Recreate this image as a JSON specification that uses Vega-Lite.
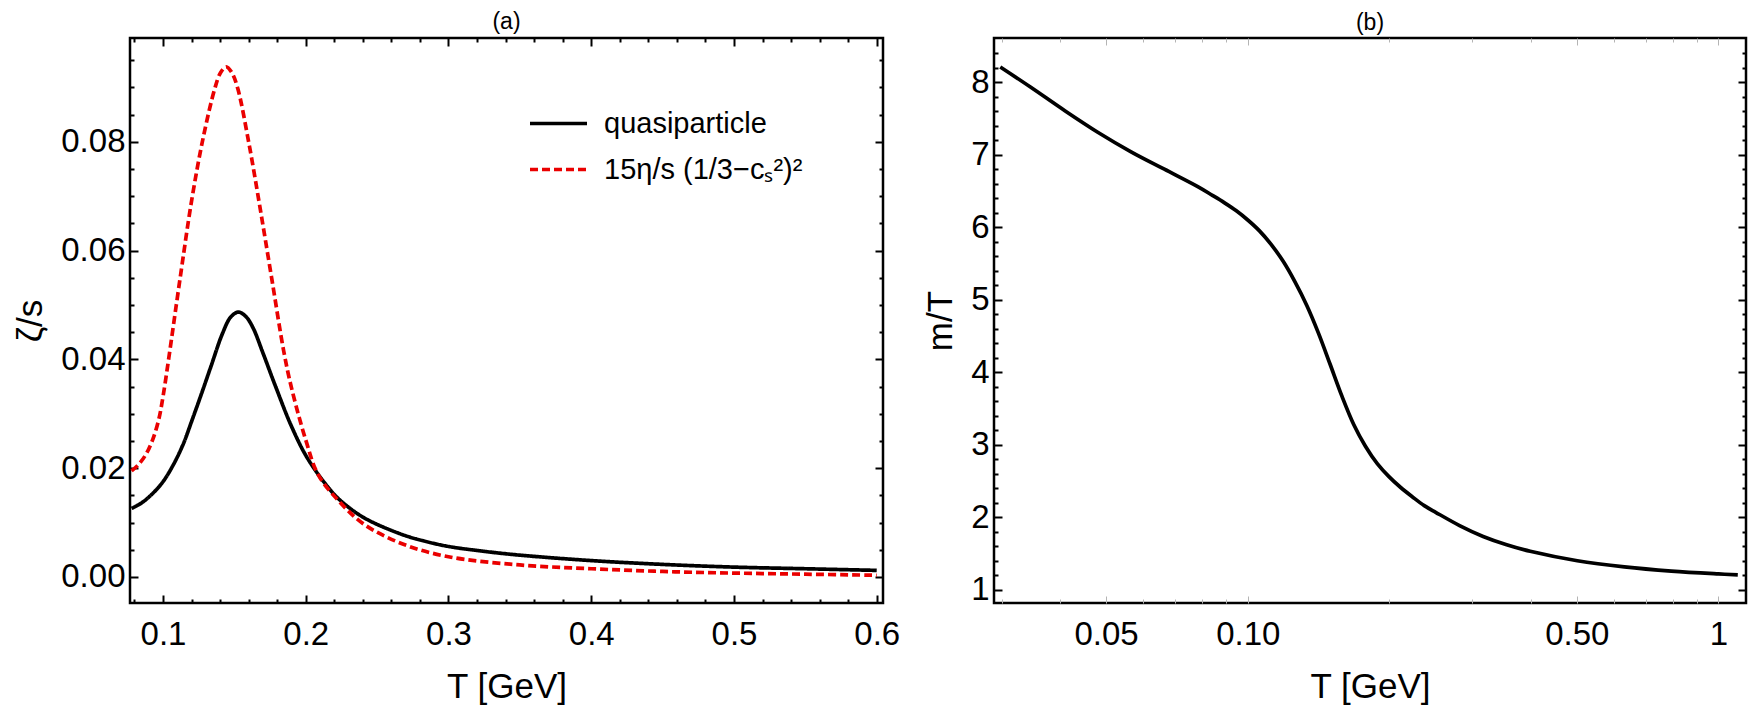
{
  "$schema": "https://vega.github.io/schema/vega-lite/v6.json",
  "background": "white",
  "autosize": {"type": "pad"},
  "padding": {"left": 12, "top": 9, "right": 0, "bottom": 0},
  "config": {
    "view": {"stroke": "black", "strokeWidth": 2.5},
    "font": "Liberation Sans",
    "axis": {
      "labelFont": "Liberation Sans",
      "titleFont": "Liberation Sans",
      "labelColor": "black",
      "titleColor": "black",
      "titleFontWeight": "normal",
      "grid": false,
      "domain": false,
      "tickColor": "black",
      "tickWidth": 2,
      "labelFlush": false,
      "labelOverlap": false
    }
  },
  "datasets": {
    "zeta": [
      {"T": 0.078, "v": 0.0126, "curve": "quasiparticle"},
      {"T": 0.085, "v": 0.0136, "curve": "quasiparticle"},
      {"T": 0.093, "v": 0.0154, "curve": "quasiparticle"},
      {"T": 0.1, "v": 0.0175, "curve": "quasiparticle"},
      {"T": 0.107, "v": 0.0205, "curve": "quasiparticle"},
      {"T": 0.114, "v": 0.0243, "curve": "quasiparticle"},
      {"T": 0.1202, "v": 0.0287, "curve": "quasiparticle"},
      {"T": 0.127, "v": 0.0337, "curve": "quasiparticle"},
      {"T": 0.1336, "v": 0.0387, "curve": "quasiparticle"},
      {"T": 0.1416, "v": 0.0447, "curve": "quasiparticle"},
      {"T": 0.1475, "v": 0.0478, "curve": "quasiparticle"},
      {"T": 0.1529, "v": 0.0487, "curve": "quasiparticle"},
      {"T": 0.158, "v": 0.0479, "curve": "quasiparticle"},
      {"T": 0.1631, "v": 0.0458, "curve": "quasiparticle"},
      {"T": 0.17, "v": 0.0412, "curve": "quasiparticle"},
      {"T": 0.1792, "v": 0.0348, "curve": "quasiparticle"},
      {"T": 0.19, "v": 0.0277, "curve": "quasiparticle"},
      {"T": 0.2006, "v": 0.0221, "curve": "quasiparticle"},
      {"T": 0.2141, "v": 0.017, "curve": "quasiparticle"},
      {"T": 0.2237, "v": 0.0142, "curve": "quasiparticle"},
      {"T": 0.2407, "v": 0.0109, "curve": "quasiparticle"},
      {"T": 0.2675, "v": 0.0078, "curve": "quasiparticle"},
      {"T": 0.283, "v": 0.0066, "curve": "quasiparticle"},
      {"T": 0.3, "v": 0.0056, "curve": "quasiparticle"},
      {"T": 0.325, "v": 0.0047, "curve": "quasiparticle"},
      {"T": 0.35, "v": 0.004, "curve": "quasiparticle"},
      {"T": 0.4, "v": 0.003, "curve": "quasiparticle"},
      {"T": 0.45, "v": 0.0023, "curve": "quasiparticle"},
      {"T": 0.5, "v": 0.0018, "curve": "quasiparticle"},
      {"T": 0.55, "v": 0.0015, "curve": "quasiparticle"},
      {"T": 0.6, "v": 0.0012, "curve": "quasiparticle"},
      {"T": 0.078, "v": 0.0195, "curve": "15η/s (1/3−cₛ²)²"},
      {"T": 0.083, "v": 0.0207, "curve": "15η/s (1/3−cₛ²)²"},
      {"T": 0.088, "v": 0.0225, "curve": "15η/s (1/3−cₛ²)²"},
      {"T": 0.093, "v": 0.0254, "curve": "15η/s (1/3−cₛ²)²"},
      {"T": 0.097, "v": 0.0289, "curve": "15η/s (1/3−cₛ²)²"},
      {"T": 0.1, "v": 0.0331, "curve": "15η/s (1/3−cₛ²)²"},
      {"T": 0.1041, "v": 0.0403, "curve": "15η/s (1/3−cₛ²)²"},
      {"T": 0.1121, "v": 0.0551, "curve": "15η/s (1/3−cₛ²)²"},
      {"T": 0.1202, "v": 0.0694, "curve": "15η/s (1/3−cₛ²)²"},
      {"T": 0.1282, "v": 0.0808, "curve": "15η/s (1/3−cₛ²)²"},
      {"T": 0.1363, "v": 0.0898, "curve": "15η/s (1/3−cₛ²)²"},
      {"T": 0.1403, "v": 0.0927, "curve": "15η/s (1/3−cₛ²)²"},
      {"T": 0.1443, "v": 0.0938, "curve": "15η/s (1/3−cₛ²)²"},
      {"T": 0.1483, "v": 0.0927, "curve": "15η/s (1/3−cₛ²)²"},
      {"T": 0.1524, "v": 0.0898, "curve": "15η/s (1/3−cₛ²)²"},
      {"T": 0.1605, "v": 0.0793, "curve": "15η/s (1/3−cₛ²)²"},
      {"T": 0.1685, "v": 0.0671, "curve": "15η/s (1/3−cₛ²)²"},
      {"T": 0.1766, "v": 0.0542, "curve": "15η/s (1/3−cₛ²)²"},
      {"T": 0.1846, "v": 0.0415, "curve": "15η/s (1/3−cₛ²)²"},
      {"T": 0.19, "v": 0.0348, "curve": "15η/s (1/3−cₛ²)²"},
      {"T": 0.2, "v": 0.0252, "curve": "15η/s (1/3−cₛ²)²"},
      {"T": 0.2087, "v": 0.0188, "curve": "15η/s (1/3−cₛ²)²"},
      {"T": 0.2237, "v": 0.0138, "curve": "15η/s (1/3−cₛ²)²"},
      {"T": 0.2407, "v": 0.0097, "curve": "15η/s (1/3−cₛ²)²"},
      {"T": 0.2675, "v": 0.0061, "curve": "15η/s (1/3−cₛ²)²"},
      {"T": 0.3, "v": 0.0037, "curve": "15η/s (1/3−cₛ²)²"},
      {"T": 0.35, "v": 0.0022, "curve": "15η/s (1/3−cₛ²)²"},
      {"T": 0.4, "v": 0.0015, "curve": "15η/s (1/3−cₛ²)²"},
      {"T": 0.45, "v": 0.001, "curve": "15η/s (1/3−cₛ²)²"},
      {"T": 0.5, "v": 0.0007, "curve": "15η/s (1/3−cₛ²)²"},
      {"T": 0.55, "v": 0.0005, "curve": "15η/s (1/3−cₛ²)²"},
      {"T": 0.6, "v": 0.0003, "curve": "15η/s (1/3−cₛ²)²"}
    ],
    "mass": [
      {"T": 0.0298, "mT": 8.21},
      {"T": 0.0346, "mT": 7.93},
      {"T": 0.0408, "mT": 7.61},
      {"T": 0.048, "mT": 7.31},
      {"T": 0.0565, "mT": 7.04},
      {"T": 0.0665, "mT": 6.8},
      {"T": 0.0783, "mT": 6.56},
      {"T": 0.0841, "mT": 6.44},
      {"T": 0.0891, "mT": 6.34},
      {"T": 0.0944, "mT": 6.23},
      {"T": 0.1, "mT": 6.1},
      {"T": 0.1059, "mT": 5.95},
      {"T": 0.1122, "mT": 5.76},
      {"T": 0.1189, "mT": 5.53},
      {"T": 0.1259, "mT": 5.25},
      {"T": 0.1334, "mT": 4.925},
      {"T": 0.1413, "mT": 4.54},
      {"T": 0.1496, "mT": 4.11},
      {"T": 0.1585, "mT": 3.67},
      {"T": 0.1679, "mT": 3.28},
      {"T": 0.1778, "mT": 2.98},
      {"T": 0.1884, "mT": 2.74},
      {"T": 0.1995, "mT": 2.56},
      {"T": 0.2113, "mT": 2.41},
      {"T": 0.2239, "mT": 2.28},
      {"T": 0.2371, "mT": 2.16},
      {"T": 0.2512, "mT": 2.065},
      {"T": 0.2818, "mT": 1.885},
      {"T": 0.3162, "mT": 1.735},
      {"T": 0.3548, "mT": 1.62},
      {"T": 0.3981, "mT": 1.53},
      {"T": 0.5012, "mT": 1.4},
      {"T": 0.631, "mT": 1.315},
      {"T": 0.7943, "mT": 1.257},
      {"T": 1.0, "mT": 1.218},
      {"T": 1.099, "mT": 1.205}
    ]
  },
  "hconcat": [
    {
      "title": {"text": "(a)", "fontSize": 23, "font": "Liberation Sans", "fontWeight": "normal", "color": "black", "offset": 3},
      "width": 753,
      "height": 565,
      "data": {"name": "zeta"},
      "resolve": {"axis": {"x": "independent", "y": "independent"}},
      "layer": [
        {
          "mark": {"type": "line", "strokeWidth": 3.7, "interpolate": "catmull-rom"},
          "encoding": {
            "x": {"field": "T", "type": "quantitative", "scale": {"domain": [0.0769, 0.6044], "nice": false, "zero": false},
              "axis": {"orient": "bottom", "title": "T [GeV]", "values": [0.1, 0.2, 0.3, 0.4, 0.5, 0.6], "format": ".1f", "ticks": false, "labelPadding": 15, "labelFontSize": 33, "titleFontSize": 35, "titlePadding": 18}},
            "y": {"field": "v", "type": "quantitative", "scale": {"domain": [-0.0048, 0.0991], "nice": false, "zero": false},
              "axis": {"orient": "left", "title": "ζ/s", "values": [0, 0.02, 0.04, 0.06, 0.08], "format": ".2f", "ticks": false, "labelPadding": 5, "labelFontSize": 33, "titleFontSize": 35, "titlePadding": 12}},
            "color": {"field": "curve", "type": "nominal",
              "scale": {"domain": ["quasiparticle", "15η/s (1/3−cₛ²)²"], "range": ["black", "#ea0000"]},
              "legend": {"title": null, "orient": "none", "legendX": 398, "legendY": 55, "symbolType": "stroke", "symbolSize": 3249, "symbolStrokeWidth": 3.7, "labelFontSize": 29, "labelFont": "Liberation Sans", "labelColor": "black", "labelOffset": 15, "rowPadding": 0, "labelLimit": 400, "padding": 0}},
            "strokeDash": {"field": "curve", "type": "nominal",
              "scale": {"domain": ["quasiparticle", "15η/s (1/3−cₛ²)²"], "range": [[1, 0], [8, 4]]},
              "legend": {"title": null, "orient": "none", "legendX": 398, "legendY": 55, "symbolType": "stroke", "symbolSize": 3249, "symbolStrokeWidth": 3.7, "labelFontSize": 29, "labelFont": "Liberation Sans", "labelColor": "black", "labelOffset": 15, "rowPadding": 0, "labelLimit": 400, "padding": 0}}
          }
        },
        {
          "mark": {"type": "line", "strokeOpacity": 0},
          "encoding": {
            "x": {"field": "T", "type": "quantitative", "scale": {"domain": [0.0769, 0.6044], "nice": false, "zero": false},
              "axis": {"orient": "bottom", "title": null, "labels": false, "values": [0.1, 0.2, 0.3, 0.4, 0.5, 0.6], "tickSize": -8}},
            "y": {"field": "v", "type": "quantitative", "scale": {"domain": [-0.0048, 0.0991], "nice": false, "zero": false},
              "axis": {"orient": "left", "title": null, "labels": false, "values": [0, 0.02, 0.04, 0.06, 0.08], "tickSize": -8}}
          }
        },
        {
          "mark": {"type": "line", "strokeOpacity": 0},
          "encoding": {
            "x": {"field": "T", "type": "quantitative", "scale": {"domain": [0.0769, 0.6044], "nice": false, "zero": false},
              "axis": {"orient": "bottom", "title": null, "labels": false, "values": [0.08, 0.12, 0.14, 0.16, 0.18, 0.22, 0.24, 0.26, 0.28, 0.32, 0.34, 0.36, 0.38, 0.42, 0.44, 0.46, 0.48, 0.52, 0.54, 0.56, 0.58], "tickSize": -4}},
            "y": {"field": "v", "type": "quantitative", "scale": {"domain": [-0.0048, 0.0991], "nice": false, "zero": false},
              "axis": {"orient": "left", "title": null, "labels": false, "values": [0.005, 0.01, 0.015, 0.025, 0.03, 0.035, 0.045, 0.05, 0.055, 0.065, 0.07, 0.075, 0.085, 0.09, 0.095], "tickSize": -4}}
          }
        },
        {
          "mark": {"type": "line", "strokeOpacity": 0},
          "encoding": {
            "x": {"field": "T", "type": "quantitative", "scale": {"domain": [0.0769, 0.6044], "nice": false, "zero": false},
              "axis": {"orient": "top", "title": null, "labels": false, "values": [0.1, 0.2, 0.3, 0.4, 0.5, 0.6], "tickSize": -8}},
            "y": {"field": "v", "type": "quantitative", "scale": {"domain": [-0.0048, 0.0991], "nice": false, "zero": false},
              "axis": {"orient": "right", "title": null, "labels": false, "values": [0, 0.02, 0.04, 0.06, 0.08], "tickSize": -8}}
          }
        },
        {
          "mark": {"type": "line", "strokeOpacity": 0},
          "encoding": {
            "x": {"field": "T", "type": "quantitative", "scale": {"domain": [0.0769, 0.6044], "nice": false, "zero": false},
              "axis": {"orient": "top", "title": null, "labels": false, "values": [0.08, 0.12, 0.14, 0.16, 0.18, 0.22, 0.24, 0.26, 0.28, 0.32, 0.34, 0.36, 0.38, 0.42, 0.44, 0.46, 0.48, 0.52, 0.54, 0.56, 0.58], "tickSize": -4}},
            "y": {"field": "v", "type": "quantitative", "scale": {"domain": [-0.0048, 0.0991], "nice": false, "zero": false},
              "axis": {"orient": "right", "title": null, "labels": false, "values": [0.005, 0.01, 0.015, 0.025, 0.03, 0.035, 0.045, 0.05, 0.055, 0.065, 0.07, 0.075, 0.085, 0.09, 0.095], "tickSize": -4}}
          }
        }
      ]
    },
    {
      "title": {"text": "(b)", "fontSize": 23, "font": "Liberation Sans", "fontWeight": "normal", "color": "black", "offset": 3},
      "width": 752,
      "height": 565,
      "data": {"name": "mass"},
      "resolve": {"axis": {"x": "independent", "y": "independent"}},
      "layer": [
        {
          "mark": {"type": "line", "strokeWidth": 3.7, "color": "black", "interpolate": "catmull-rom"},
          "encoding": {
            "x": {"field": "T", "type": "quantitative", "scale": {"type": "log", "domain": [0.0289, 1.144], "nice": false},
              "axis": {"orient": "bottom", "title": "T [GeV]", "values": [0.05, 0.1, 0.5, 1], "labelExpr": "datum.value >= 1 ? '1' : format(datum.value, '.2f')", "ticks": false, "labelPadding": 15, "labelFontSize": 33, "titleFontSize": 35, "titlePadding": 18}},
            "y": {"field": "mT", "type": "quantitative", "scale": {"domain": [0.817, 8.61], "nice": false, "zero": false},
              "axis": {"orient": "left", "title": "m/T", "values": [1, 2, 3, 4, 5, 6, 7, 8], "format": "d", "ticks": false, "labelPadding": 5, "labelFontSize": 33, "titleFontSize": 35, "titlePadding": 12}}
          }
        },
        {
          "mark": {"type": "line", "strokeOpacity": 0},
          "encoding": {
            "x": {"field": "T", "type": "quantitative", "scale": {"type": "log", "domain": [0.0289, 1.144], "nice": false},
              "axis": {"orient": "bottom", "title": null, "labels": false, "values": [0.05, 0.1, 0.5, 1], "tickSize": -7, "tickColor": "#b4b4b4", "tickWidth": 1}},
            "y": {"field": "mT", "type": "quantitative", "scale": {"domain": [0.817, 8.61], "nice": false, "zero": false},
              "axis": {"orient": "left", "title": null, "labels": false, "values": [1, 2, 3, 4, 5, 6, 7, 8], "tickSize": -8}}
          }
        },
        {
          "mark": {"type": "line", "strokeOpacity": 0},
          "encoding": {
            "x": {"field": "T", "type": "quantitative", "scale": {"type": "log", "domain": [0.0289, 1.144], "nice": false},
              "axis": {"orient": "bottom", "title": null, "labels": false, "values": [0.03, 0.04, 0.06, 0.07, 0.08, 0.09, 0.2, 0.3, 0.4, 0.6, 0.7, 0.8, 0.9], "tickSize": -4, "tickColor": "#b4b4b4", "tickWidth": 1}},
            "y": {"field": "mT", "type": "quantitative", "scale": {"domain": [0.817, 8.61], "nice": false, "zero": false},
              "axis": {"orient": "left", "title": null, "labels": false, "values": [1.2, 1.4, 1.6, 1.8, 2.2, 2.4, 2.6, 2.8, 3.2, 3.4, 3.6, 3.8, 4.2, 4.4, 4.6, 4.8, 5.2, 5.4, 5.6, 5.8, 6.2, 6.4, 6.6, 6.8, 7.2, 7.4, 7.6, 7.8, 8.2, 8.4], "tickSize": -4}}
          }
        },
        {
          "mark": {"type": "line", "strokeOpacity": 0},
          "encoding": {
            "x": {"field": "T", "type": "quantitative", "scale": {"type": "log", "domain": [0.0289, 1.144], "nice": false},
              "axis": {"orient": "top", "title": null, "labels": false, "values": [0.05, 0.1, 0.5, 1], "tickSize": -7, "tickColor": "#b4b4b4", "tickWidth": 1}},
            "y": {"field": "mT", "type": "quantitative", "scale": {"domain": [0.817, 8.61], "nice": false, "zero": false},
              "axis": {"orient": "right", "title": null, "labels": false, "values": [1, 2, 3, 4, 5, 6, 7, 8], "tickSize": -8}}
          }
        },
        {
          "mark": {"type": "line", "strokeOpacity": 0},
          "encoding": {
            "x": {"field": "T", "type": "quantitative", "scale": {"type": "log", "domain": [0.0289, 1.144], "nice": false},
              "axis": {"orient": "top", "title": null, "labels": false, "values": [0.03, 0.04, 0.06, 0.07, 0.08, 0.09, 0.2, 0.3, 0.4, 0.6, 0.7, 0.8, 0.9], "tickSize": -4, "tickColor": "#b4b4b4", "tickWidth": 1}},
            "y": {"field": "mT", "type": "quantitative", "scale": {"domain": [0.817, 8.61], "nice": false, "zero": false},
              "axis": {"orient": "right", "title": null, "labels": false, "values": [1.2, 1.4, 1.6, 1.8, 2.2, 2.4, 2.6, 2.8, 3.2, 3.4, 3.6, 3.8, 4.2, 4.4, 4.6, 4.8, 5.2, 5.4, 5.6, 5.8, 6.2, 6.4, 6.6, 6.8, 7.2, 7.4, 7.6, 7.8, 8.2, 8.4], "tickSize": -4}}
          }
        }
      ]
    }
  ],
  "spacing": 111,
  "bounds": "flush"
}
